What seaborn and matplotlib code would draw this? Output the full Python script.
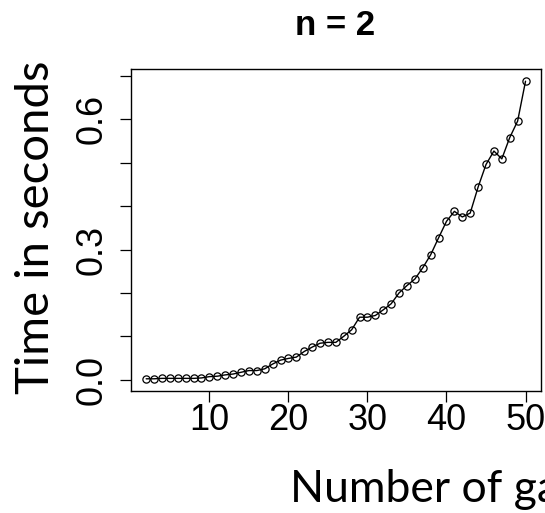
import matplotlib
matplotlib.use("Agg")
import matplotlib.pyplot as plt
import seaborn as sns
import pandas as pd

# Number of games and measured run time (seconds)
games = list(range(2, 51))
seconds = [0.002, 0.002, 0.003, 0.003, 0.003, 0.003, 0.003, 0.004, 0.007, 0.008,
           0.011, 0.013, 0.017, 0.021, 0.021, 0.025, 0.036, 0.045, 0.049, 0.052,
           0.065, 0.075, 0.084, 0.086, 0.086, 0.100, 0.115, 0.144, 0.144, 0.148,
           0.161, 0.175, 0.200, 0.217, 0.232, 0.258, 0.288, 0.327, 0.365, 0.388,
           0.375, 0.384, 0.444, 0.496, 0.527, 0.509, 0.558, 0.596, 0.688]

x_ticks = [10, 20, 30, 40, 50]
y_ticks = [0.0, 0.1, 0.2, 0.3, 0.4, 0.5, 0.6, 0.7]
y_tick_labels = ["0.0", "", "", "0.3", "", "", "0.6", ""]
title = "n = 2"
y_label = "Time in seconds"
x_label = "Number of games"

sns.set_style("ticks")
plt.rcParams["font.family"] = ["Liberation Sans", "DejaVu Sans"]

W, H, DPI = 545, 513, 100
fig = plt.figure(figsize=(W / DPI, H / DPI), dpi=DPI)
ax = fig.add_axes([131 / W, 1 - 390.7 / H, (540.7 - 131) / W, (390.7 - 69.3) / H])

df = pd.DataFrame({"games": games, "seconds": seconds})
sns.lineplot(data=df, x="games", y="seconds", ax=ax, color="black",
             linewidth=1.0, marker="o", markersize=5.2,
             markerfacecolor="none", markeredgecolor="black",
             markeredgewidth=0.9)

# base-graphics style 4% padding on both axes
def padded(lo, hi):
    r = hi - lo
    return lo - 0.04 * r, hi + 0.04 * r

ax.set_xlim(*padded(min(games), max(games)))
ax.set_ylim(*padded(min(seconds), max(seconds)))

ax.set_xticks(x_ticks)
ax.set_xticklabels([str(t) for t in x_ticks])
ax.set_yticks(y_ticks)
ax.set_yticklabels(y_tick_labels, rotation=90, va="center")

for s in ax.spines.values():
    s.set_linewidth(1.0)
    s.set_color("black")
ax.tick_params(axis="both", direction="out", length=7.8, width=0.9,
               color="black", labelsize=26, labelcolor="black")
ax.tick_params(axis="x", pad=1)
ax.tick_params(axis="y", pad=7.5)
ax.set_xlabel("")
ax.set_ylabel("")
ax.grid(False)

fig.text(335.5 / W, 1 - 35 / H, title, ha="center", va="baseline",
         fontsize=25, fontweight="bold", color="black")

fig.text(49 / W, 1 - 227.5 / H, y_label, rotation=90, rotation_mode="anchor",
         ha="center", va="baseline", fontsize=34, family=["Lato", "DejaVu Sans"],
         color="black")
fig.text(290 / W, 1 - 502 / H, x_label, ha="left", va="baseline",
         fontsize=32, family=["Lato", "DejaVu Sans"], color="black")

fig.savefig("out.png", dpi=DPI, facecolor="white")
